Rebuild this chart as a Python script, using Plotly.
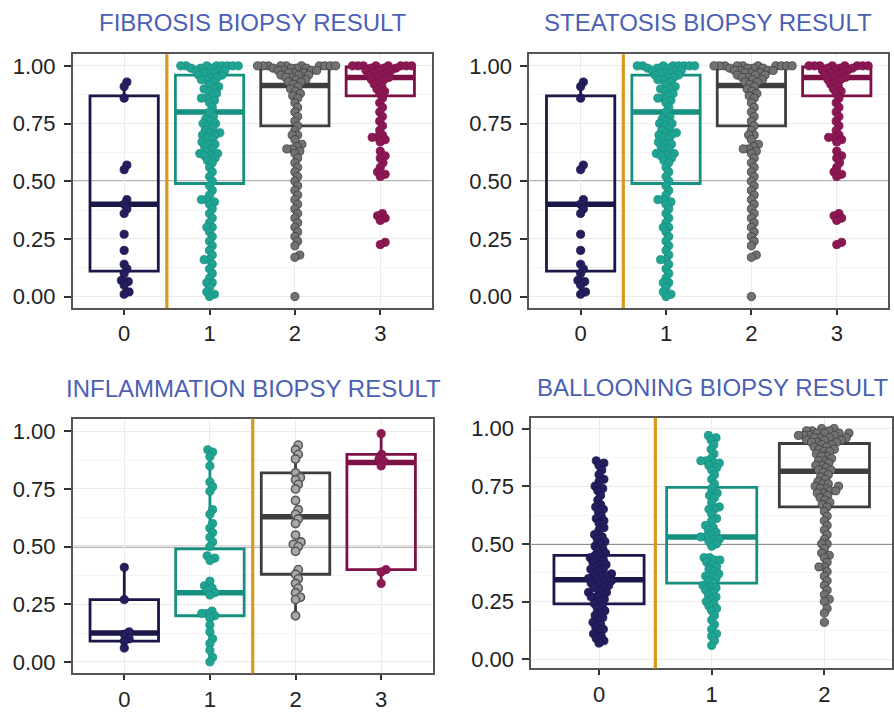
import numpy as np
import plotly.graph_objects as go

# ---------------- DATA ----------------
categories4 = [0, 1, 2, 3]
categories3 = [0, 1, 2]
tick_vals_y = [0.0, 0.25, 0.5, 0.75, 1.0]
tick_text_y = ["0.00", "0.25", "0.50", "0.75", "1.00"]

# Fibrosis biopsy result (dot values and how many dots share each value)
fib0_vals = [0.93, 0.91, 0.86, 0.57, 0.55, 0.42, 0.40, 0.38, 0.36, 0.27,
             0.20, 0.14, 0.12, 0.10, 0.07, 0.065, 0.05, 0.02, 0.01]
fib0_counts = [1] * 19

fib1_vals = [1.00, 0.99, 0.98, 0.97, 0.96, 0.95, 0.94, 0.93, 0.92, 0.91,
             0.90, 0.89, 0.88, 0.87, 0.86, 0.85, 0.84, 0.82, 0.80, 0.78,
             0.77, 0.76, 0.75, 0.74, 0.73, 0.72, 0.71, 0.70, 0.69, 0.68,
             0.67, 0.66, 0.65, 0.64, 0.63, 0.62, 0.61, 0.60, 0.59, 0.58,
             0.56, 0.54, 0.52, 0.50, 0.48, 0.46, 0.44, 0.42, 0.41, 0.40,
             0.38, 0.36, 0.34, 0.32, 0.30, 0.28, 0.26, 0.24, 0.22, 0.20,
             0.18, 0.16, 0.14, 0.12, 0.10, 0.08, 0.06, 0.04, 0.02, 0.01,
             0.00]
fib1_counts = [8, 3, 3, 3, 2, 2, 2, 1, 1, 1,
               2, 1, 1, 1, 2, 1, 1, 1, 1, 1,
               1, 1, 2, 1, 1, 1, 2, 2, 1, 1,
               1, 2, 1, 1, 1, 2, 2, 1, 1, 1,
               1, 1, 1, 1, 1, 1, 1, 2, 1, 1,
               1, 1, 1, 1, 2, 1, 1, 1, 1, 1,
               1, 2, 1, 1, 1, 1, 2, 1, 1, 1,
               1]

fib2_vals = [1.00, 0.99, 0.98, 0.97, 0.96, 0.95, 0.94, 0.93, 0.92, 0.91,
             0.90, 0.89, 0.88, 0.87, 0.86, 0.84, 0.82, 0.80, 0.78, 0.76,
             0.74, 0.72, 0.70, 0.68, 0.66, 0.65, 0.64, 0.63, 0.62, 0.60,
             0.58, 0.56, 0.54, 0.52, 0.50, 0.48, 0.46, 0.44, 0.42, 0.40,
             0.38, 0.36, 0.34, 0.32, 0.30, 0.28, 0.26, 0.24, 0.22, 0.18,
             0.17, 0.00]
fib2_counts = [10, 4, 4, 3, 3, 2, 2, 2, 1, 1,
               1, 1, 1, 1, 1, 1, 1, 1, 1, 1,
               1, 1, 2, 1, 1, 1, 2, 1, 1, 1,
               1, 1, 1, 1, 1, 1, 1, 1, 1, 1,
               1, 1, 1, 1, 1, 1, 1, 1, 1, 1,
               1, 1]

fib3_vals = [1.00, 0.99, 0.98, 0.97, 0.96, 0.95, 0.94, 0.93, 0.92, 0.91,
             0.90, 0.89, 0.88, 0.86, 0.84, 0.82, 0.80, 0.78, 0.76, 0.74,
             0.72, 0.70, 0.69, 0.68, 0.67, 0.63, 0.61, 0.60, 0.58, 0.56,
             0.54, 0.53, 0.52, 0.36, 0.35, 0.34, 0.33, 0.235, 0.225]
fib3_counts = [8, 3, 3, 2, 2, 2, 2, 1, 1, 1,
               1, 1, 1, 1, 1, 1, 1, 1, 1, 1,
               1, 1, 2, 1, 1, 1, 1, 1, 1, 1,
               1, 1, 1, 1, 1, 1, 1, 1, 1]

fib_q1 = [0.11, 0.49, 0.74, 0.87]
fib_median = [0.40, 0.80, 0.915, 0.95]
fib_q3 = [0.87, 0.96, 0.99, 0.995]
fib_lower = [0.01, 0.00, 0.40, 0.68]
fib_upper = [0.93, 1.00, 1.00, 1.00]

# Steatosis biopsy result (same picture as fibrosis)
steat_groups = [(fib0_vals, fib0_counts), (fib1_vals, fib1_counts),
                (fib2_vals, fib2_counts), (fib3_vals, fib3_counts)]
steat_q1 = list(fib_q1)
steat_median = list(fib_median)
steat_q3 = list(fib_q3)
steat_lower = list(fib_lower)
steat_upper = list(fib_upper)

# Inflammation biopsy result
inf0_vals = [0.41, 0.27, 0.13, 0.12, 0.10, 0.09, 0.06]
inf1_vals = [0.92, 0.91, 0.89, 0.85, 0.78, 0.76, 0.74, 0.66, 0.64, 0.60,
             0.58, 0.56, 0.54, 0.52, 0.50, 0.46, 0.45, 0.44, 0.35, 0.33,
             0.32, 0.31, 0.30, 0.29, 0.22, 0.21, 0.21, 0.20, 0.19, 0.16,
             0.13, 0.10, 0.08, 0.05, 0.02, 0.00]
inf2_vals = [0.94, 0.92, 0.90, 0.88, 0.82, 0.80, 0.79, 0.77, 0.75, 0.70,
             0.66, 0.64, 0.62, 0.60, 0.55, 0.52, 0.51, 0.50, 0.48, 0.40,
             0.38, 0.36, 0.34, 0.32, 0.30, 0.28, 0.27, 0.20]
inf3_vals = [0.99, 0.90, 0.88, 0.87, 0.85, 0.40, 0.39, 0.34]
inf_q1 = [0.09, 0.20, 0.38, 0.40]
inf_median = [0.125, 0.30, 0.63, 0.865]
inf_q3 = [0.27, 0.49, 0.82, 0.90]
inf_lower = [0.06, 0.00, 0.20, 0.34]
inf_upper = [0.41, 0.92, 0.94, 0.99]

# Ballooning biopsy result
bal0_vals = [0.86, 0.85, 0.84, 0.82, 0.80, 0.78, 0.77, 0.75, 0.74, 0.73,
             0.71, 0.69, 0.67, 0.66, 0.65, 0.64, 0.62, 0.61, 0.60, 0.59,
             0.57, 0.56, 0.54, 0.53, 0.52, 0.51, 0.50, 0.49, 0.48, 0.47,
             0.46, 0.45, 0.44, 0.43, 0.42, 0.41, 0.40, 0.39, 0.38, 0.37,
             0.36, 0.35, 0.34, 0.33, 0.32, 0.31, 0.30, 0.29, 0.28, 0.27,
             0.26, 0.25, 0.24, 0.23, 0.22, 0.21, 0.20, 0.19, 0.18, 0.17,
             0.16, 0.15, 0.14, 0.13, 0.12, 0.11, 0.10, 0.09, 0.08, 0.07]
bal0_counts = [1, 1, 1, 1, 1, 1, 1, 1, 1, 1,
               1, 1, 1, 1, 1, 1, 1, 1, 1, 1,
               1, 1, 1, 1, 1, 1, 1, 1, 1, 1,
               1, 2, 1, 2, 1, 2, 1, 2, 1, 2,
               2, 2, 2, 2, 1, 2, 1, 2, 1, 2,
               1, 1, 1, 1, 1, 1, 1, 1, 1, 1,
               1, 1, 1, 1, 1, 1, 1, 1, 1, 1]

bal1_vals = [0.97, 0.96, 0.95, 0.93, 0.91, 0.89, 0.87, 0.86, 0.85, 0.84,
             0.83, 0.82, 0.80, 0.78, 0.76, 0.74, 0.72, 0.71, 0.70, 0.68,
             0.66, 0.65, 0.63, 0.61, 0.60, 0.58, 0.57, 0.56, 0.55, 0.54,
             0.53, 0.52, 0.51, 0.50, 0.49, 0.44, 0.43, 0.42, 0.41, 0.40,
             0.39, 0.38, 0.37, 0.36, 0.35, 0.34, 0.33, 0.32, 0.31, 0.30,
             0.29, 0.28, 0.27, 0.26, 0.25, 0.24, 0.23, 0.22, 0.21, 0.19,
             0.17, 0.15, 0.13, 0.11, 0.10, 0.08, 0.06]
bal1_counts = [1, 1, 1, 1, 1, 1, 1, 2, 2, 1,
               1, 1, 1, 1, 1, 1, 1, 1, 1, 1,
               1, 2, 1, 1, 1, 1, 1, 1, 1, 1,
               2, 2, 1, 1, 1, 2, 2, 1, 1, 1,
               1, 1, 1, 2, 1, 1, 1, 1, 2, 1,
               1, 1, 1, 1, 1, 1, 1, 1, 1, 1,
               1, 1, 1, 1, 1, 1, 1]

bal2_vals = [1.00, 0.99, 0.98, 0.97, 0.96, 0.95, 0.94, 0.93, 0.92, 0.91,
             0.90, 0.89, 0.88, 0.87, 0.86, 0.85, 0.84, 0.83, 0.82, 0.81,
             0.80, 0.79, 0.78, 0.77, 0.76, 0.75, 0.74, 0.73, 0.72, 0.71,
             0.70, 0.69, 0.68, 0.67, 0.66, 0.64, 0.62, 0.60, 0.58, 0.56,
             0.54, 0.52, 0.50, 0.48, 0.46, 0.45, 0.44, 0.42, 0.40, 0.38,
             0.36, 0.34, 0.32, 0.30, 0.28, 0.26, 0.25, 0.22, 0.20, 0.16]
bal2_counts = [2, 3, 4, 4, 4, 3, 3, 2, 2, 2,
               2, 1, 2, 1, 2, 1, 2, 1, 2, 1,
               1, 1, 1, 1, 2, 2, 2, 2, 2, 1,
               1, 1, 1, 1, 1, 1, 1, 1, 1, 1,
               1, 1, 2, 1, 1, 1, 1, 1, 2, 1,
               1, 1, 1, 1, 1, 1, 1, 1, 1, 1]

bal_q1 = [0.24, 0.33, 0.66]
bal_median = [0.345, 0.53, 0.815]
bal_q3 = [0.45, 0.745, 0.935]
bal_lower = [0.07, 0.06, 0.25]
bal_upper = [0.75, 0.97, 1.00]

titles = ["FIBROSIS BIOPSY RESULT", "STEATOSIS BIOPSY RESULT",
          "INFLAMMATION BIOPSY RESULT", "BALLOONING BIOPSY RESULT"]
cutoffs = [0.5, 0.5, 1.5, 0.5]      # orange separator between categories
threshold = 0.5                      # grey horizontal reference line

# ---------------- STYLE ----------------
dot_colors = ["#241e60", "#1fa494", "#727272", "#8b1853"]
box_colors = ["#1b1748", "#16907f", "#3e3e3e", "#7c1047"]
title_color = "#4b5fb4"
orange = "#d69a1e"
font_family = "Liberation Sans, Arial, Helvetica, sans-serif"

W, H = 894, 712
DOT = 8.2
COLLIDE = 0.66 * DOT


def swarm(values, px_x, px_y, d):
    """Beeswarm offsets (x data units); dots placed in ascending order, centres d px apart."""
    vals = np.asarray(values, float)
    order = np.argsort(vals, kind="stable")
    placed = []
    offs = np.zeros(len(vals))
    for i in order:
        y = vals[i] * px_y
        near = [(px, py) for px, py in placed if abs(py - y) < d]
        cands = [0.0]
        for px, py in near:
            dx = np.sqrt(max(d * d - (py - y) ** 2, 0.0))
            cands += [px + dx, px - dx]
        cands.sort(key=lambda c: (round(abs(c), 6), -c))
        chosen = cands[-1]
        for c in cands:
            if all((c - px) ** 2 + (y - py) ** 2 >= d * d - 1e-6 for px, py in near):
                chosen = c
                break
        placed.append((chosen, y))
        offs[i] = chosen / px_x
    return offs


panels = [
    dict(cats=categories4,
         groups=[(fib0_vals, fib0_counts), (fib1_vals, fib1_counts),
                 (fib2_vals, fib2_counts), (fib3_vals, fib3_counts)],
         q1=fib_q1, med=fib_median, q3=fib_q3, lo=fib_lower, hi=fib_upper,
         dom_x=(73, 432), dom_y=(54, 311), yr=(-0.05, 1.05), xr=(-0.6, 3.6),
         title_xy=(253, 22), hollow_gray=False),
    dict(cats=categories4, groups=steat_groups,
         q1=steat_q1, med=steat_median, q3=steat_q3, lo=steat_lower, hi=steat_upper,
         dom_x=(530, 889), dom_y=(54, 311), yr=(-0.05, 1.05), xr=(-0.6, 3.6),
         title_xy=(709, 22), hollow_gray=False),
    dict(cats=categories4,
         groups=[(inf0_vals, [1] * len(inf0_vals)), (inf1_vals, [1] * len(inf1_vals)),
                 (inf2_vals, [1] * len(inf2_vals)), (inf3_vals, [1] * len(inf3_vals))],
         q1=inf_q1, med=inf_median, q3=inf_q3, lo=inf_lower, hi=inf_upper,
         dom_x=(73, 433), dom_y=(423, 681), yr=(-0.05, 1.055), xr=(-0.6, 3.6),
         title_xy=(254, 392), hollow_gray=True),
    dict(cats=categories3,
         groups=[(bal0_vals, bal0_counts), (bal1_vals, bal1_counts),
                 (bal2_vals, bal2_counts)],
         q1=bal_q1, med=bal_median, q3=bal_q3, lo=bal_lower, hi=bal_upper,
         dom_x=(532, 893), dom_y=(422, 676), yr=(-0.04, 1.047), xr=(-0.6, 2.6),
         title_xy=(714, 391), hollow_gray=False),
]

fig = go.Figure()
layout = dict(width=W, height=H, margin=dict(l=0, r=0, t=0, b=0),
              paper_bgcolor="white", plot_bgcolor="white", showlegend=False,
              font=dict(family=font_family, color="#222222"),
              annotations=[], shapes=[])

for k, p in enumerate(panels):
    sfx = "" if k == 0 else str(k + 1)
    xa, ya = "x" + sfx, "y" + sfx
    px_x = (p["dom_x"][1] - p["dom_x"][0]) / (p["xr"][1] - p["xr"][0])
    px_y = (p["dom_y"][1] - p["dom_y"][0]) / (p["yr"][1] - p["yr"][0])

    for i, cat in enumerate(p["cats"]):
        fig.add_trace(go.Box(
            x=[cat], q1=[p["q1"][i]], median=[p["med"][i]], q3=[p["q3"][i]],
            lowerfence=[p["lo"][i]], upperfence=[p["hi"][i]],
            orientation="v", width=0.8, whiskerwidth=0, boxpoints=False,
            fillcolor="rgba(0,0,0,0)", line=dict(color=box_colors[i], width=2.8),
            xaxis=xa, yaxis=ya, hoverinfo="skip"))
        fig.add_trace(go.Scatter(
            x=[cat - 0.4, cat + 0.4], y=[p["med"][i], p["med"][i]], mode="lines",
            line=dict(color=box_colors[i], width=5.5), xaxis=xa, yaxis=ya,
            hoverinfo="skip"))

    for i, cat in enumerate(p["cats"]):
        vals, counts = p["groups"][i]
        values = np.repeat(np.asarray(vals, float), counts)
        offs = swarm(values, px_x, px_y, COLLIDE)
        fill = dot_colors[i]
        edge = dict(color=box_colors[i], width=0.8)
        if p["hollow_gray"] and i == 2:
            fill = "#a8a8a8"
            edge = dict(color="#5a5a5a", width=1.6)
        fig.add_trace(go.Scatter(
            x=cat + offs, y=values, mode="markers",
            marker=dict(size=DOT, color=fill, line=edge),
            xaxis=xa, yaxis=ya, hoverinfo="skip"))

    dx0, dx1 = p["dom_x"][0] / W, p["dom_x"][1] / W
    dy0, dy1 = 1 - p["dom_y"][1] / H, 1 - p["dom_y"][0] / H
    axis_common = dict(showline=True, mirror=True, linecolor="#555555", linewidth=2,
                       tickwidth=1.5, tickcolor="#333333", ticks="outside",
                       tickfont=dict(size=22, color="#222222", family=font_family),
                       showgrid=True, gridcolor="#ebebeb", gridwidth=1, zeroline=False)
    layout["xaxis" + sfx] = dict(domain=[dx0, dx1], range=list(p["xr"]), anchor=ya,
                                 tickmode="array", tickvals=p["cats"], ticklen=5,
                                 ticktext=[str(c) for c in p["cats"]], **axis_common)
    layout["yaxis" + sfx] = dict(domain=[dy0, dy1], range=list(p["yr"]), anchor=xa,
                                 tickmode="array", tickvals=tick_vals_y, ticklen=7,
                                 ticktext=tick_text_y, ticklabelstandoff=4,
                                 minor=dict(showgrid=True, gridcolor="#f4f4f4",
                                            tickmode="array",
                                            tickvals=[0.125, 0.375, 0.625, 0.875]),
                                 **axis_common)

    layout["shapes"].append(dict(type="line", xref=xa + " domain", yref=ya,
                                 x0=0, x1=1, y0=threshold, y1=threshold,
                                 line=dict(color="#6a6a6a", width=1.6), layer="below"))
    layout["shapes"].append(dict(type="line", xref=xa, yref=ya + " domain",
                                 x0=cutoffs[k], x1=cutoffs[k], y0=0, y1=1,
                                 line=dict(color=orange, width=3.2), layer="above"))
    tx, ty = p["title_xy"]
    layout["annotations"].append(dict(text=titles[k], xref="paper", yref="paper",
                                      x=tx / W, y=1 - ty / H,
                                      xanchor="center", yanchor="middle",
                                      showarrow=False,
                                      font=dict(size=24, color=title_color,
                                                family=font_family)))

fig.update_layout(**layout)
# the page body has a default 8px margin; remove it so the 894x712 figure fills the window
fig.write_html("out.html", config={"displayModeBar": False},
               post_script="document.body.style.margin='0px';")
